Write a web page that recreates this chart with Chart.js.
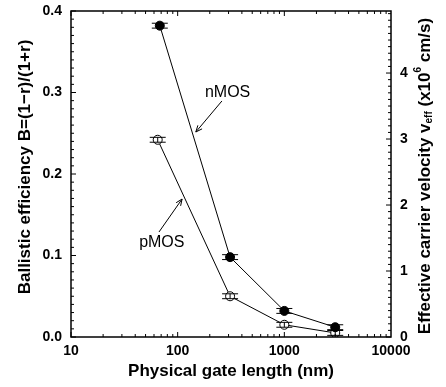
<!DOCTYPE html>
<html>
<head>
<meta charset="utf-8">
<script src="https://cdn.jsdelivr.net/npm/chart.js@4.4.0/dist/chart.umd.min.js"></script>
<style>
html,body{margin:0;padding:0;background:#fff}
</style>
</head>
<body>
<canvas id="myChart" width="446" height="387"></canvas>
<script>
// data
var nmosLen = [68, 310, 1000, 3000];
var nmosB = [0.382, 0.098, 0.032, 0.012];
var nmosErr = [0.003, 0.003, 0.003, 0.003];
var pmosLen = [65, 310, 1000, 3000];
var pmosB = [0.242, 0.050, 0.015, 0.005];
var pmosErr = [0.003, 0.003, 0.003, 0.003];

var xTickVals = [10, 100, 1000, 10000];
var yTickVals = [0, 0.1, 0.2, 0.3, 0.4];
var vTickVals = [0, 1, 2, 3, 4];
var vMax = 4.94;

// annotations, in data units
var notes = [
    {text: 'nMOS', x: 294, y: 0.300, from: [260, 0.2896], to: [148, 0.2515]},
    {text: 'pMOS', x: 71, y: 0.1155, from: [66.8, 0.1288], to: [110, 0.1693]}
];

var BOLD = '"Liberation Sans", Arial, sans-serif';

var toPts = function(xs, ys){
    var arr = [];
    $each(xs, function(i, v){ arr.push({x: v, y: ys[i]}); });
    return arr;
};
function $each(a, fn){ for (var i = 0; i < a.length; i++) fn(i, a[i]); }

var drawTick = function(ctx, x1, y1, x2, y2){
    ctx.beginPath();
    ctx.moveTo(x1, y1);
    ctx.lineTo(x2, y2);
    ctx.stroke();
};

var arrow = function(ctx, x1, y1, x2, y2){
    var a = Math.atan2(y2 - y1, x2 - x1), L = 7, w = 0.4;
    drawTick(ctx, x1, y1, x2, y2);
    ctx.beginPath();
    ctx.moveTo(x2 - L * Math.cos(a - w), y2 - L * Math.sin(a - w));
    ctx.lineTo(x2, y2);
    ctx.lineTo(x2 - L * Math.cos(a + w), y2 - L * Math.sin(a + w));
    ctx.stroke();
};

var decor = {
    id: 'decor',
    afterDatasetsDraw: function(chart){
        var ctx = chart.ctx, xs = chart.scales.x, ys = chart.scales.y, vs = chart.scales.y2;
        var ca = chart.chartArea;
        ctx.save();
        ctx.strokeStyle = '#000';
        ctx.fillStyle = '#000';

        // error bars
        ctx.lineWidth = 1;
        var errs = [[nmosLen, nmosB, nmosErr], [pmosLen, pmosB, pmosErr]];
        $each(errs, function(k, s){
            $each(s[0], function(i, xv){
                var px = xs.getPixelForValue(xv);
                var hi = ys.getPixelForValue(s[1][i] + s[2][i]);
                var lo = ys.getPixelForValue(s[1][i] - s[2][i]);
                drawTick(ctx, px, hi, px, lo);
                drawTick(ctx, px - 8, hi, px + 8, hi);
                drawTick(ctx, px - 8, lo, px + 8, lo);
            });
        });

        // frame
        ctx.lineWidth = 1.5;
        ctx.strokeRect(ca.left, ca.top, ca.right - ca.left, ca.bottom - ca.top);

        // inward ticks
        ctx.lineWidth = 1;
        var d, m, px, py;
        for (d = 10; d < 10000; d *= 10) {
            for (m = 1; m < 10; m++) {
                px = xs.getPixelForValue(d * m);
                var len = m === 1 ? 5 : 3;
                drawTick(ctx, px, ca.bottom, px, ca.bottom - len);
                drawTick(ctx, px, ca.top, px, ca.top + len);
            }
        }
        for (m = 0; m <= 40; m++) {
            py = ys.getPixelForValue(m / 100);
            drawTick(ctx, ca.left, py, ca.left + (m % 10 === 0 ? 5 : 3), py);
        }
        for (m = 0; m <= 49; m++) {
            py = vs.getPixelForValue(m / 10);
            drawTick(ctx, ca.right, py, ca.right - (m % 10 === 0 ? 5 : 3), py);
        }

        // tick labels
        ctx.font = 'bold 14px ' + BOLD;
        ctx.textBaseline = 'middle';
        ctx.textAlign = 'center';
        $each(xTickVals, function(i, v){
            ctx.fillText(String(v), xs.getPixelForValue(v), ca.bottom + 14);
        });
        ctx.textAlign = 'right';
        $each(yTickVals, function(i, v){
            ctx.fillText(v.toFixed(1), ca.left - 9, ys.getPixelForValue(v));
        });
        ctx.textAlign = 'left';
        $each(vTickVals, function(i, v){
            ctx.fillText(String(v), ca.right + 9, vs.getPixelForValue(v));
        });

        // axis titles
        ctx.font = 'bold 17px ' + BOLD;
        ctx.textAlign = 'center';
        ctx.textBaseline = 'middle';
        ctx.fillText('Physical gate length (nm)', (ca.left + ca.right) / 2, 371);
        ctx.save();
        ctx.translate(25, 167);
        ctx.rotate(-Math.PI / 2);
        ctx.fillText('Ballistic efficiency B=(1\u2212r)/(1+r)', 0, 0);
        ctx.restore();

        // right title with sub/superscript
        var segs = [
            ['Effective carrier velocity v', 17, 0],
            ['eff', 10, 4],
            [' (x10', 17, 0],
            ['6', 10, -7],
            [' cm/s)', 17, 0]
        ];
        var total = 0;
        $each(segs, function(i, s){
            ctx.font = 'bold ' + s[1] + 'px ' + BOLD;
            total += ctx.measureText(s[0]).width;
        });
        ctx.save();
        ctx.translate(425, 176);
        ctx.rotate(-Math.PI / 2);
        ctx.textAlign = 'left';
        var cx = -total / 2;
        $each(segs, function(i, s){
            ctx.font = 'bold ' + s[1] + 'px ' + BOLD;
            ctx.fillText(s[0], cx, s[2]);
            cx += ctx.measureText(s[0]).width;
        });
        ctx.restore();

        // annotations
        ctx.font = '16px ' + BOLD;
        ctx.textAlign = 'center';
        $each(notes, function(i, n){
            ctx.fillText(n.text, xs.getPixelForValue(n.x), ys.getPixelForValue(n.y));
            arrow(ctx, xs.getPixelForValue(n.from[0]), ys.getPixelForValue(n.from[1]),
                       xs.getPixelForValue(n.to[0]), ys.getPixelForValue(n.to[1]));
        });
        ctx.restore();
    }
};

var ctx1 = document.getElementById('myChart');
var mChart = new Chart(ctx1, {
    type: 'scatter',
    data: {
        datasets: [{
            label: 'nMOS',
            data: toPts(nmosLen, nmosB),
            showLine: true,
            borderColor: '#000',
            borderWidth: 1,
            pointRadius: 4.5,
            pointBackgroundColor: '#000',
            pointBorderColor: '#000',
            pointBorderWidth: 1
        },
        {
            label: 'pMOS',
            data: toPts(pmosLen, pmosB),
            showLine: true,
            borderColor: '#000',
            borderWidth: 1,
            pointRadius: 4.5,
            pointBackgroundColor: '#fff',
            pointBorderColor: '#000',
            pointBorderWidth: 1
        }]
    },
    options: {
        responsive: false,
        animation: false,
        layout: {padding: {top: 11}},
        plugins: {legend: {display: false}, tooltip: {enabled: false}},
        scales: {
            x: {
                type: 'logarithmic', min: 10, max: 10000, position: 'bottom',
                ticks: {display: false}, grid: {display: false}, border: {display: false},
                afterFit: function(s){ s.height = 50; }
            },
            y: {
                min: 0, max: 0.4, position: 'left',
                ticks: {display: false}, grid: {display: false}, border: {display: false},
                afterFit: function(s){ s.width = 71; }
            },
            y2: {
                min: 0, max: vMax, position: 'right',
                ticks: {display: false}, grid: {display: false}, border: {display: false},
                afterFit: function(s){ s.width = 55; }
            }
        }
    },
    plugins: [decor]
});
</script>
</body>
</html>
